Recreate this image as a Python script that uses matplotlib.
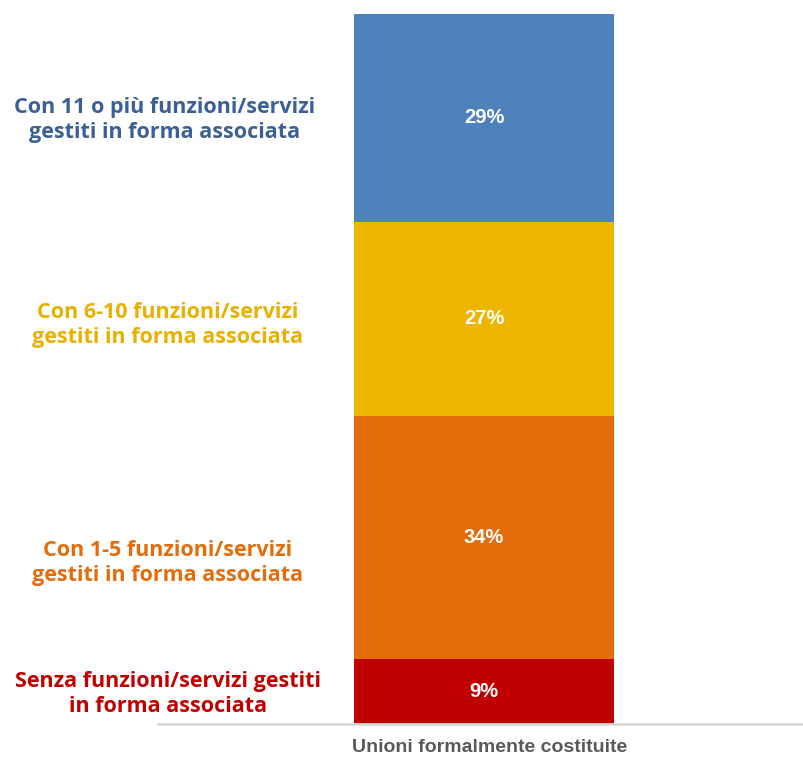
import matplotlib.pyplot as plt

# Dati
categoria = 'Unioni formalmente costituite'
etichette = ['Senza funzioni/servizi gestiti\nin forma associata',
             'Con 1-5 funzioni/servizi\ngestiti in forma associata',
             'Con 6-10 funzioni/servizi\ngestiti in forma associata',
             'Con 11 o più funzioni/servizi\ngestiti in forma associata']
valori = [9, 34, 27, 29]

colori = ['#C00000', '#E46C0A', '#EDB500', '#4F81BD']
colori_testo = ['#C00000', '#E46C0A', '#E8B000', '#3B6096']
# posizione verticale (pixel dall'alto) e centro orizzontale delle etichette
pos_y = [694, 563, 325, 120]
pos_x = [168, 168, 168, 165]

W, H = 804, 758
fig = plt.figure(figsize=(W / 100, H / 100), dpi=100)
ax = fig.add_axes([158 / W, (H - 724) / H, (W - 158) / W, (724 - 14) / H])

base = 0
for v, c in zip(valori, colori):
    ax.bar(0, v, width=1, bottom=base, color=c, edgecolor='none')
    ax.text(0, base + v / 2, f'{v}%', ha='center', va='center', color='white',
            fontsize=14.5, fontweight='bold', family='Liberation Sans')
    base += v

ax.set_xlim(-326 / 260, 320 / 260)
ax.set_ylim(0, sum(valori))
for s in ['top', 'right', 'left']:
    ax.spines[s].set_visible(False)
ax.spines['bottom'].set_color('#D9D9D9')
ax.spines['bottom'].set_linewidth(2)
ax.set_yticks([])
ax.set_xticks([0.02])
ax.set_xticklabels([categoria], color='#595959', fontsize=14,
                   fontweight='bold', family='Liberation Sans')
ax.tick_params(axis='x', length=0, pad=11)

for t, c, y, x in zip(etichette, colori_testo, pos_y, pos_x):
    fig.text(x / W, 1 - y / H, t, ha='center', va='center', color=c,
             fontsize=15.5, fontweight='bold', family='Open Sans',
             linespacing=1.2)

plt.savefig('out.png', dpi=100)
